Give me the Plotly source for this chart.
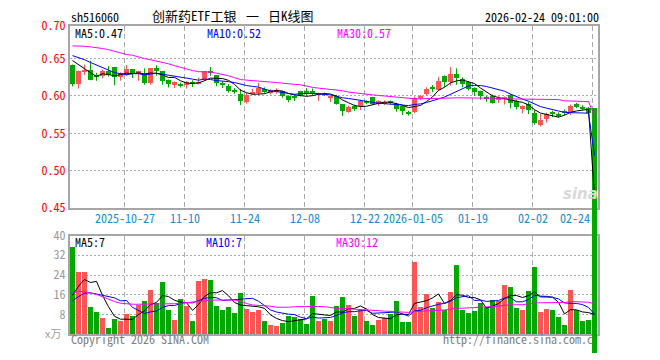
import plotly.graph_objects as go

# ---------------- data ----------------
tick_labels = ["2025-10-27", "11-10", "11-24", "12-08", "12-22", "2026-01-05", "01-19", "02-02", "02-24"]
tick_index = [9, 19, 29, 39, 49, 57, 67, 77, 87]

open_ = [
    0.641, 0.6155, 0.633, 0.6346, 0.6282, 0.6273, 0.633, 0.6387, 0.6256, 0.630,
    0.636, 0.630, 0.629, 0.617, 0.637, 0.6335, 0.6213, 0.6158, 0.6166, 0.6153,
    0.6193, 0.6166, 0.6215, 0.633, 0.628, 0.616, 0.6138, 0.6075, 0.602, 0.592,
    0.6035, 0.6042, 0.609, 0.6044, 0.6053, 0.6066, 0.600, 0.598, 0.6066, 0.6055,
    0.605, 0.6016, 0.6042, 0.598, 0.5998, 0.589, 0.5789, 0.5867, 0.5863, 0.5918,
    0.598, 0.5898, 0.590, 0.5918, 0.5898, 0.5867, 0.577, 0.578, 0.5985, 0.602,
    0.6103, 0.6081, 0.6273, 0.6186, 0.629, 0.6225, 0.6182, 0.6107, 0.6064, 0.5967,
    0.5994, 0.5941, 0.5965, 0.6007, 0.5933, 0.5828, 0.5898, 0.5776, 0.5614, 0.5693,
    0.5767, 0.5745, 0.578, 0.5785, 0.5889, 0.5845, 0.5833, 0.5833]
high = [
    0.642, 0.634, 0.642, 0.647, 0.631, 0.6352, 0.640, 0.639, 0.6317, 0.6413,
    0.636, 0.634, 0.637, 0.6375, 0.641, 0.6335, 0.622, 0.6195, 0.618, 0.620,
    0.621, 0.6245, 0.6334, 0.6387, 0.628, 0.6195, 0.616, 0.6107, 0.6094, 0.604,
    0.6097, 0.6177, 0.6115, 0.609, 0.6103, 0.607, 0.601, 0.602, 0.607, 0.6105,
    0.610, 0.6045, 0.6045, 0.600, 0.6015, 0.589, 0.5872, 0.5885, 0.595, 0.5942,
    0.599, 0.5942, 0.594, 0.594, 0.591, 0.5875, 0.5802, 0.5995, 0.6011, 0.6116,
    0.6147, 0.6256, 0.6275, 0.6387, 0.637, 0.6247, 0.619, 0.6115, 0.607, 0.600,
    0.602, 0.5994, 0.5994, 0.6029, 0.595, 0.5876, 0.592, 0.5811, 0.5758, 0.5776,
    0.5802, 0.578, 0.582, 0.5885, 0.5907, 0.5876, 0.5854, 0.5833]
low = [
    0.6127, 0.610, 0.628, 0.621, 0.6203, 0.6238, 0.626, 0.6142, 0.6205, 0.627,
    0.624, 0.6205, 0.615, 0.615, 0.627, 0.615, 0.6114, 0.6106, 0.6113, 0.6097,
    0.612, 0.6155, 0.620, 0.627, 0.613, 0.6107, 0.6046, 0.603, 0.5876, 0.5898,
    0.601, 0.6005, 0.6035, 0.602, 0.6029, 0.5976, 0.5915, 0.5933, 0.5995, 0.6005,
    0.6005, 0.5933, 0.600, 0.592, 0.5885, 0.5732, 0.5776, 0.5798, 0.581, 0.589,
    0.5875, 0.5868, 0.588, 0.5885, 0.5789, 0.5745, 0.5737, 0.577, 0.594, 0.6007,
    0.605, 0.6064, 0.6116, 0.6138, 0.615, 0.6116, 0.6073, 0.600, 0.595, 0.5922,
    0.5898, 0.5907, 0.5885, 0.5833, 0.582, 0.5767, 0.5758, 0.5614, 0.5592, 0.5645,
    0.5715, 0.571, 0.5745, 0.5745, 0.5837, 0.581, 0.5767, 0.0]
close = [
    0.6155, 0.6334, 0.634, 0.6216, 0.6265, 0.6334, 0.628, 0.625, 0.6303, 0.636,
    0.630, 0.6335, 0.6175, 0.637, 0.6337, 0.6195, 0.616, 0.6184, 0.614, 0.6193,
    0.6165, 0.6193, 0.6328, 0.6315, 0.618, 0.615, 0.6072, 0.606, 0.5928, 0.6007,
    0.6045, 0.6103, 0.6065, 0.6075, 0.6084, 0.6001, 0.594, 0.5975, 0.6015, 0.6045,
    0.6045, 0.6042, 0.6007, 0.5995, 0.5898, 0.5793, 0.5854, 0.5824, 0.5928, 0.5912,
    0.5898, 0.5928, 0.5925, 0.5912, 0.5832, 0.5793, 0.5762, 0.5978, 0.600, 0.6099,
    0.6097, 0.6203, 0.6182, 0.6291, 0.6234, 0.616, 0.6094, 0.605, 0.5994, 0.5963,
    0.5911, 0.5976, 0.5968, 0.5907, 0.5854, 0.5867, 0.5811, 0.5645, 0.568, 0.5758,
    0.5762, 0.574, 0.5775, 0.5867, 0.5854, 0.5837, 0.5776, 0.0]
# closes of the 9 sessions before the first visible one (for MA5 / MA10)
prior_close = [0.660, 0.662, 0.659, 0.661, 0.661, 0.6605, 0.6654, 0.6446, 0.651]
# price MA30 as drawn
ma30_price = [
    0.667, 0.667, 0.6665, 0.6657, 0.665, 0.6635, 0.662, 0.660, 0.657, 0.6555,
    0.6545, 0.652, 0.650, 0.6485, 0.647, 0.6455, 0.643, 0.6405, 0.638, 0.636,
    0.634, 0.6325, 0.6325, 0.632, 0.6305, 0.629, 0.627, 0.6245, 0.622, 0.6212,
    0.6205, 0.619, 0.6186, 0.6186, 0.618, 0.617, 0.616, 0.6155, 0.615, 0.613,
    0.6115, 0.6105, 0.6098, 0.6094, 0.6078, 0.607, 0.6052, 0.6045, 0.6035, 0.6025,
    0.6015, 0.6007, 0.600, 0.5994, 0.5985, 0.5975, 0.5967, 0.5963, 0.5963, 0.5963,
    0.5965, 0.5967, 0.597, 0.5972, 0.5976, 0.5976, 0.5975, 0.5975, 0.5974, 0.5973,
    0.5970, 0.5963, 0.5962, 0.5961, 0.596, 0.596, 0.5958, 0.5955, 0.5953, 0.5952,
    0.5952, 0.5952, 0.5935, 0.593, 0.593, 0.593, 0.5925, 0.573]

volume = [
    35.5, 25.5, 25.5, 11.4, 9.4, 7.0, 2.6, 6.3, 5.5, 8.6,
    7.5, 12.2, 13.8, 18.2, 13.0, 21.4, 10.2, 6.2, 14.6, 11.8,
    5.8, 21.8, 22.6, 22.2, 11.8, 10.2, 11.4, 9.0, 17.0, 10.6,
    9.4, 9.9, 5.8, 3.8, 3.4, 5.0, 7.8, 7.4, 6.6, 4.6,
    15.8, 5.8, 6.6, 5.5, 11.8, 15.4, 12.2, 7.8, 10.2, 5.8,
    4.2, 6.2, 6.9, 8.6, 13.8, 5.4, 5.4, 29.4, 11.4, 16.6,
    11.0, 13.4, 10.2, 17.5, 28.2, 9.9, 9.0, 9.8, 13.0, 11.4,
    14.2, 13.8, 20.2, 19.4, 11.0, 10.2, 17.8, 27.4, 9.4, 10.6,
    10.1, 7.4, 3.8, 18.2, 10.2, 5.8, 6.2, 0.0]
prior_volume = [7.5, 12.0, 10.0, 14.0, 12.5, 7.0, 12.0, 17.4, 7.1]
ma30_volume = [
    16.6, 17.4, 17.3, 16.8, 16.2, 15.2, 14.2, 13.3, 12.6, 12.3,
    12.2, 12.2, 12.2, 12.2, 12.2, 12.2, 12.3, 12.4, 12.6, 12.8,
    13.0, 13.4, 13.6, 13.9, 13.9, 13.9, 13.9, 13.9, 13.5, 12.5,
    11.9, 11.8, 11.8, 11.4, 11.0, 10.9, 11.0, 11.2, 11.3, 11.3,
    11.3, 11.3, 11.2, 10.8, 10.6, 10.5, 10.4, 10.3, 10.2, 10.1,
    9.8, 9.6, 9.4, 9.3, 9.2, 9.0, 8.9, 9.2, 9.3, 9.5,
    9.6, 9.8, 9.9, 10.2, 10.6, 10.6, 10.7, 10.8, 11.0, 11.0,
    11.2, 11.4, 11.8, 12.0, 12.0, 12.0, 12.4, 12.7, 12.8, 12.8,
    12.9, 12.9, 12.9, 13.3, 13.3, 13.2, 13.0, 12.4]

price_ticks = [0.45, 0.50, 0.55, 0.60, 0.65]
price_tick_text = ["0.45", "0.50", "0.55", "0.60", "0.65"]
price_top_label = "0.70"
vol_ticks = [8, 16, 24, 32, 40]
vol_tick_text = ["8", "16", "24", "32", "40"]

code_text = "sh516060"
title_parts = ["创新药ETF工银", "一", "日K线图"]
time_text = "2026-02-24 09:01:00"
ma_price_text = ["MA5:0.47", "MA10:0.52", "MA30:0.57"]
ma_vol_text = ["MA5:7", "MA10:7", "MA30:12"]

# ---------------- styling / layout ----------------
W, H = 660, 360
ML, MR, MT, MB = 70, 62, 26, 0
PLOT_W, PLOT_H = W - ML - MR, H - MT - MB
PRICE_BOTTOM_PX, VOL_TOP_PX, VOL_BOTTOM_PX = 212, 240, 341
PX_PER_UNIT = 763.5
PRICE_TOP = 0.45 + (PRICE_BOTTOM_PX - MT) / PX_PER_UNIT
FULL_BOTTOM = 0.45 - (H - PRICE_BOTTOM_PX) / PX_PER_UNIT  # price at the bottom of the image
VOL_PX_PER_UNIT = (VOL_BOTTOM_PX - VOL_TOP_PX) / 40.0
VOL_FULL = [-(H - VOL_BOTTOM_PX) / VOL_PX_PER_UNIT, 40 + (VOL_TOP_PX - MT) / VOL_PX_PER_UNIT]

RED = "#FF5454"
GREEN = "#00A800"
GRID = "#ABABAB"
BORDER = "#A6A6A6"
MONO = "Noto Sans Mono CJK SC, DejaVu Sans Mono, monospace"
CJK = "Noto Sans CJK SC, sans-serif"

n = len(close)
idx = list(range(n))
slot = 6.0  # px per session
x0 = -2.5 / slot
x_range = [x0, x0 + PLOT_W / slot]


def py(px):  # pixel row -> paper y
    return (H - MB - px) / PLOT_H


def pxx(px):  # pixel col -> paper x
    return (px - ML) / PLOT_W


def moving(series, prior, w):
    ext = list(prior) + list(series)
    k = len(prior)
    return [sum(ext[k + i - w + 1:k + i + 1]) / w for i in range(len(series))]


ma5 = moving(close, prior_close, 5)
ma10 = moving(close, prior_close, 10)
vma5 = moving(volume, prior_volume, 5)
vma10 = moving(volume, prior_volume, 10)

min_body = 1.1 / PX_PER_UNIT
is_up = [c > o for o, c in zip(open_, close)]
overflow = [i for i in idx if low[i] < 0.45]   # candles that run out of the price panel

fig = go.Figure()

for up, col in ((True, RED), (False, GREEN)):
    sel = [i for i in idx if is_up[i] == up and i not in overflow]
    wx, wy = [], []
    for i in sel:
        wx += [i, i, None]
        wy += [low[i], high[i], None]
    fig.add_trace(go.Scatter(x=wx, y=wy, mode="lines", line=dict(color=col, width=1),
                             hoverinfo="skip", showlegend=False, xaxis="x", yaxis="y"))
    fig.add_trace(go.Bar(
        x=sel,
        base=[min(open_[i], close[i]) for i in sel],
        y=[max(abs(close[i] - open_[i]), min_body) for i in sel],
        width=5 / slot, marker=dict(color=col, line=dict(width=0)),
        showlegend=False, xaxis="x", yaxis="y"))

fig.add_trace(go.Bar(x=idx, y=volume, width=5 / slot,
                     marker=dict(color=[RED if u else GREEN for u in is_up], line=dict(width=0)),
                     showlegend=False, xaxis="x2", yaxis="y2"))

# candles falling out of the price panel: drawn on a full-height axis with the same scale,
# with the moving-average lines on top of them
fig.add_trace(go.Bar(
    x=overflow,
    base=[min(open_[i], close[i]) for i in overflow],
    y=[abs(close[i] - open_[i]) for i in overflow],
    width=5 / slot,
    marker=dict(color=[RED if is_up[i] else GREEN for i in overflow], line=dict(width=0)),
    showlegend=False, xaxis="x3", yaxis="y3"))
for vals, col in ((ma5, "#000000"), (ma10, "#0000FF"), (ma30_price, "#FF00FF")):
    fig.add_trace(go.Scatter(x=idx, y=vals, mode="lines", line=dict(color=col, width=1),
                             showlegend=False, xaxis="x3", yaxis="y3"))
for vals, col in ((vma5, "#000000"), (vma10, "#0000FF"), (ma30_volume, "#FF00FF")):
    fig.add_trace(go.Scatter(x=idx, y=vals, mode="lines", line=dict(color=col, width=1),
                             showlegend=False, xaxis="x3", yaxis="y4"))

grid_x = [t - 2.0 / slot for t in tick_index]
xcommon = dict(range=x_range, tickvals=grid_x, showticklabels=False, ticks="",
               showgrid=True, gridcolor=GRID, gridwidth=1, griddash="5px,3px",
               zeroline=False, showline=True, mirror=True, linecolor=BORDER, linewidth=2)
ycommon = dict(ticks="", showgrid=True, gridcolor=GRID, gridwidth=1, griddash="2px,2px",
               zeroline=False, showline=True, mirror=True, linecolor=BORDER, linewidth=2,
               ticklabelstandoff=0)

price_dom_bottom = (H - MB - PRICE_BOTTOM_PX) / PLOT_H
vol_dom = [(H - MB - VOL_BOTTOM_PX) / PLOT_H, (H - MB - VOL_TOP_PX) / PLOT_H]

fig.update_layout(
    width=W, height=H, margin=dict(l=ML, r=MR, t=MT, b=MB, pad=0),
    paper_bgcolor="white", plot_bgcolor="rgba(0,0,0,0)", bargap=0, barmode="overlay",
    showlegend=False,
    xaxis=dict(domain=[0, 1], anchor="y", **xcommon),
    xaxis2=dict(domain=[0, 1], anchor="y2", **xcommon),
    xaxis3=dict(domain=[0, 1], anchor="y3", range=x_range, visible=False, showgrid=False),
    yaxis=dict(domain=[price_dom_bottom, 1], range=[0.45, PRICE_TOP],
               tickvals=price_ticks + [PRICE_TOP], ticktext=price_tick_text + [price_top_label],
               tickfont=dict(family=MONO, size=12, color="#FF0000"), **ycommon),
    yaxis2=dict(domain=vol_dom, range=[0, 40],
                tickvals=vol_ticks, ticktext=vol_tick_text,
                tickfont=dict(family=MONO, size=12, color="#9A9A9A"), **ycommon),
    yaxis3=dict(domain=[0, 1], anchor="x3", range=[FULL_BOTTOM, PRICE_TOP],
                visible=False, showgrid=False),
    yaxis4=dict(domain=[0, 1], anchor="x3", range=VOL_FULL, visible=False, showgrid=False),
)

ann = []


def add_text(text, x, y, color="#000000", size=12, family=MONO, xanchor="left", xref="paper", **kw):
    ann.append(dict(text=text, x=x, y=y, xref=xref, yref="paper", xanchor=xanchor,
                    yanchor="middle", showarrow=False,
                    font=dict(family=family, size=size, color=color), **kw))


add_text(code_text, pxx(69), py(16))
add_text(title_parts[0], pxx(150), py(15), size=13)
add_text(title_parts[1], pxx(252.7), py(15), size=13, xanchor="center")
add_text(title_parts[2], pxx(266), py(15), size=13)
add_text(time_text, pxx(601), py(16), xanchor="right")

for t, xpx, col in zip(ma_price_text, (73, 205, 335), ("#000000", "#0000FF", "#FF00FF")):
    add_text(t, pxx(xpx), py(33), color=col)
for t, xpx, col in zip(ma_vol_text, (73, 204, 334), ("#000000", "#0000FF", "#FF00FF")):
    add_text(t, pxx(xpx), py(246), color=col)

for lab, gx in zip(tick_labels, grid_x):
    if lab == tick_labels[-1]:
        add_text(lab, (592 - 72.5) / slot, py(221.5), color="#1A8CD8", xanchor="right", xref="x")
    else:
        add_text(lab, gx, py(221.5), color="#1A8CD8", xanchor="center", xref="x")

add_text("x万", pxx(63), py(340), color="#A0A0A0", xanchor="right", size=11, family=CJK)
add_text("Copyright 2026 SINA.COM", pxx(69), py(345.5), color="#808080")
add_text("http://finance.sina.com.c", pxx(441), py(345.5), color="#808080")
add_text("<b><i>sina</i></b>", pxx(580), py(198), color="#D9D9D9", xanchor="center", size=15,
         family="DejaVu Sans")

fig.update_layout(annotations=ann)
fig.write_html("out.html", config={"displayModeBar": False},
               post_script="document.body.style.margin='0px';")
